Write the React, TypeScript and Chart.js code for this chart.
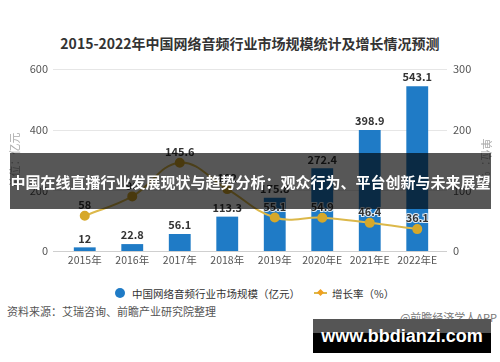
import React, { useEffect, useRef } from "react";
import { Chart, registerables } from "chart.js";

Chart.register(...registerables);

const years = ["2015年", "2016年", "2017年", "2018年", "2019年", "2020年E", "2021年E", "2022年E"];
const marketSize = [12, 22.8, 56.1, 113.3, 175.8, 272.4, 398.9, 543.1];
const growthRate = [58, 90, 145.6, 102, 55.1, 54.9, 46.4, 36.1];
const leftMax = 600;
const rightMax = 300;

const titleText = "2015-2022年中国网络音频行业市场规模统计及增长情况预测";
const bannerText = "中国在线直播行业发展现状与趋势分析：观众行为、平台创新与未来展望";
const sizeLegend = "中国网络音频行业市场规模（亿元）";
const rateLegend = "增长率（%）";
const sourceText = "资料来源：艾瑞咨询、前瞻产业研究院整理";
const creditText = "@前瞻经济学人APP";
const siteText = "www.bbdianzi.com";

const FONT = "'Noto Sans CJK SC', 'Noto Sans', sans-serif";
const BAR_COLOR = "#1f7bc6";
const LINE_COLOR = "#dcb84a";
const POINT_COLOR = "#d6a82a";

const gridPlugin = {
  id: "extGrid",
  beforeDatasetsDraw(chart: any) {
    const { ctx, chartArea, scales } = chart;
    const y = scales.y;
    ctx.save();
    ctx.lineWidth = 1;
    y.ticks.forEach((t: any) => {
      const py = Math.round(y.getPixelForValue(t.value)) + 0.5;
      ctx.strokeStyle = t.value === 0 ? "#cfcfcf" : "#e6e6e6";
      ctx.beginPath();
      ctx.moveTo(chartArea.left - 8, py);
      ctx.lineTo(chartArea.right + 6, py);
      ctx.stroke();
    });
    ctx.restore();
  },
};

const labelPlugin = {
  id: "valueLabels",
  afterDatasetsDraw(chart: any) {
    const { ctx } = chart;
    ctx.save();
    ctx.font = `bold 11px ${FONT}`;
    ctx.textAlign = "center";
    ctx.textBaseline = "middle";
    const barMeta = chart.getDatasetMeta(1);
    barMeta.data.forEach((el: any, i: number) => {
      ctx.fillStyle = "#333";
      ctx.fillText(String(marketSize[i]), el.x, el.y - 9);
    });
    const lineMeta = chart.getDatasetMeta(0);
    lineMeta.data.forEach((el: any, i: number) => {
      ctx.lineWidth = 2;
      ctx.strokeStyle = "rgba(255,255,255,0.85)";
      ctx.strokeText(String(growthRate[i]), el.x, el.y - 11);
      ctx.fillStyle = "#333";
      ctx.fillText(String(growthRate[i]), el.x, el.y - 11);
    });
    ctx.restore();
  },
};

export default function App() {
  const ref = useRef<HTMLCanvasElement | null>(null);

  useEffect(() => {
    document.body.style.margin = "0";
    if (!ref.current) return;
    const chart = new Chart(ref.current, {
      type: "bar",
      data: {
        labels: years,
        datasets: [
          {
            type: "line",
            label: rateLegend,
            data: growthRate,
            yAxisID: "y1",
            borderColor: LINE_COLOR,
            borderWidth: 2,
            pointRadius: 4,
            pointBackgroundColor: POINT_COLOR,
            pointBorderColor: POINT_COLOR,
            tension: 0.4,
            order: 0,
          } as any,
          {
            type: "bar",
            label: sizeLegend,
            data: marketSize,
            yAxisID: "y",
            backgroundColor: BAR_COLOR,
            barPercentage: 0.46,
            categoryPercentage: 1,
            order: 1,
          },
        ],
      },
      options: {
        responsive: false,
        animation: false,
        devicePixelRatio: 1,
        layout: { padding: { left: 6, right: 5, top: 69, bottom: 11 } },
        plugins: { legend: { display: false }, tooltip: { enabled: false } },
        scales: {
          x: {
            grid: { display: false, drawTicks: false },
            border: { display: false },
            ticks: { color: "#555", font: { family: FONT, size: 10.5 }, padding: 3, maxRotation: 0, minRotation: 0, autoSkip: false },
            afterFit: (scale: any) => { scale.height = 18; },
          },
          y: {
            position: "left",
            min: 0,
            max: leftMax,
            grid: { display: false, drawTicks: false },
            border: { display: false },
            ticks: { stepSize: 200, color: "#555", font: { family: FONT, size: 11 }, padding: 13 },
            title: { display: true, text: "单位：亿元", color: "#aaa", font: { family: FONT, size: 11 }, padding: { top: 2, bottom: 2 } },
            afterFit: (scale: any) => { scale.width = 55; },
          },
          y1: {
            position: "right",
            min: 0,
            max: rightMax,
            grid: { display: false, drawTicks: false },
            border: { display: false },
            ticks: { stepSize: 100, color: "#555", font: { family: FONT, size: 11 }, padding: 12 },
            title: { display: true, text: "单位：%", color: "#aaa", font: { family: FONT, size: 11 }, padding: { top: 2, bottom: 2 } },
            afterFit: (scale: any) => { scale.width = 54; },
          },
        },
      },
      plugins: [gridPlugin, labelPlugin],
    });
    return () => chart.destroy();
  }, []);

  return (
    <div style={{ position: "relative", width: 500, height: 362, background: "#fff", overflow: "hidden", fontFamily: FONT }}>
      <div style={{ position: "absolute", left: 0, top: 33, width: 500, textAlign: "center", fontSize: 14, fontWeight: "bold", color: "#333", lineHeight: "20px" }}>
        {titleText}
      </div>
      <canvas ref={ref} width={500} height={280} style={{ position: "absolute", left: 0, top: 0, width: 500, height: 280 }} />
      <div style={{ position: "absolute", left: 10, top: 153, width: 481, height: 56, background: "rgba(0,0,0,0.66)", display: "flex", alignItems: "center", justifyContent: "center", color: "#fff", fontWeight: "bold", fontSize: 15, whiteSpace: "nowrap" }}>
        {bannerText}
      </div>
      <div style={{ position: "absolute", left: 115, top: 285, height: 16, display: "flex", alignItems: "center", fontSize: 10.5, color: "#333", whiteSpace: "nowrap" }}>
        <span style={{ display: "inline-block", width: 10, height: 10, borderRadius: 5, background: BAR_COLOR, marginRight: 7 }} />
        <span>{sizeLegend}</span>
        <span style={{ position: "relative", display: "inline-block", width: 13, height: 10, marginLeft: 14, marginRight: 5 }}>
          <span style={{ position: "absolute", left: 0, top: 4, width: 13, height: 2, background: LINE_COLOR }} />
          <span style={{ position: "absolute", left: 4, top: 2, width: 5, height: 5, background: "#f0a020", transform: "rotate(45deg)" }} />
        </span>
        <span>{rateLegend}</span>
      </div>
      <div style={{ position: "absolute", left: 7, top: 303, fontSize: 11, color: "#555", whiteSpace: "nowrap", lineHeight: "16px" }}>
        {sourceText}
      </div>
      <div style={{ position: "absolute", right: 3, top: 309, fontSize: 11, color: "#777", whiteSpace: "nowrap", lineHeight: "16px" }}>
        {creditText}
      </div>
      <div style={{ position: "absolute", left: 313, top: 319, width: 178, height: 34, background: "linear-gradient(#555 0, #555 40%, #000 40%, #000 100%)", display: "flex", alignItems: "center", justifyContent: "center", color: "#fff", fontFamily: "'Liberation Sans', Arial, sans-serif", fontWeight: "bold", fontSize: 18 }}>
        {siteText}
      </div>
    </div>
  );
}
